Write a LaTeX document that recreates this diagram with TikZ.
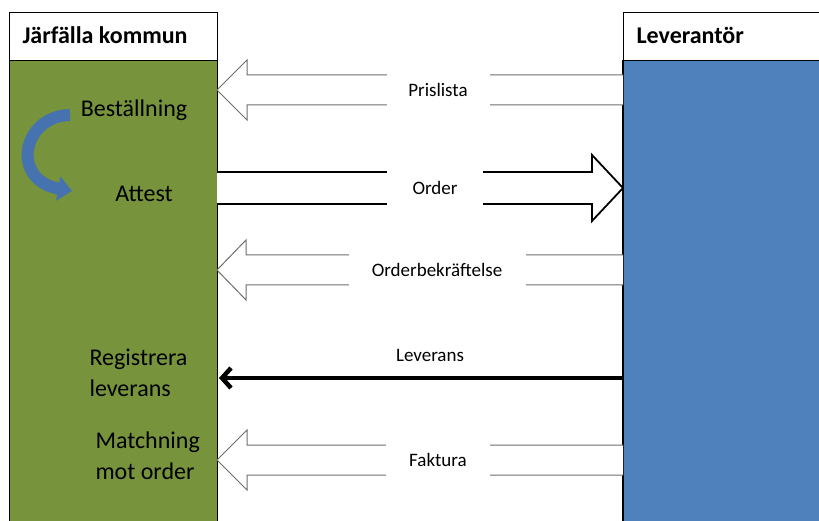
\documentclass[tikz,border=0pt]{standalone}
\usepackage{fontspec}
\setmainfont{Carlito}
\usetikzlibrary{arrows.meta}
\definecolor{kgreen}{RGB}{119,147,60}
\definecolor{lblue}{RGB}{79,129,189}
\definecolor{carrow}{RGB}{70,115,175}
\definecolor{agray}{RGB}{110,110,110}
\tikzset{
  hdr/.style={draw=black, line width=0.8pt, fill=white},
  lbltext/.style={font=\fontsize{24}{31}\selectfont, text=black},
  hdrtext/.style={font=\bfseries\fontsize{24}{28}\selectfont, anchor=west},
  msg/.style={font=\fontsize{19}{22}\selectfont, fill=white, minimum height=36pt},
  grayarrow/.style={draw=agray, line width=1pt, fill=white},
  blackarrow/.style={draw=black, line width=1.8pt, fill=white, line join=miter},
}
\begin{document}
\begin{tikzpicture}[x=1pt,y=-1pt]
\useasboundingbox (0,0) rectangle (819,521);
% lanes
\fill[kgreen] (9,60) rectangle (217,521);
\draw[black, line width=1pt] (9,60) -- (9,521) (217,60) -- (217,521);
\fill[lblue] (623,60) rectangle (819,521);
\draw[black, line width=1.5pt] (623,60) -- (623,521);
\draw[hdr] (9,12) rectangle (217,60);
\draw[hdr] (623,12) rectangle (819,60);
\node[hdrtext] (hl) at (19,35) {Järfälla kommun};
\node[hdrtext] (hr) at (633,35) {Leverantör};
% side labels
\node[lbltext] (best) at (134,110) {Beställning};
\node[lbltext] (att) at (144,194) {Attest};
\node[lbltext, anchor=west, align=left] (reg) at (86,373) {Registrera\\leverans};
\node[lbltext, anchor=west, align=left] (mat) at (92,456) {Matchning\\mot order};
% curved arrow
\coordinate (cs) at (70,115);
\coordinate (ce) at (72,191);
\draw[carrow, line width=12pt, -{Triangle[width=24pt,length=14pt]}]
  (cs) .. controls (22,116) and (10,180) .. (ce);
% Prislista
\draw[grayarrow] (623,75) -- (247,75) -- (247,60) -- (217,90) -- (247,120) -- (247,105) -- (623,105);
\node[msg, minimum width=103pt] (p) at (438,90) {Prislista};
% Order
\draw[blackarrow] (217,172) -- (592,172) -- (592,155) -- (623,188) -- (592,221) -- (592,204) -- (217,204);
\node[msg, minimum width=96pt, minimum height=38pt] (o) at (435,188) {Order};
% Orderbekräftelse
\draw[grayarrow] (623,255) -- (246,255) -- (246,240) -- (217,270) -- (246,300) -- (246,285) -- (623,285);
\node[msg, minimum width=177pt] (ob) at (437,270) {Orderbekräftelse};
% Leverans
\coordinate (lvs) at (623,378);
\coordinate (lve) at (219,378);
\draw[black, line width=4.5pt, -{Straight Barb[length=9pt,width=20pt]}] (lvs) -- (lve);
\node[font=\fontsize{19}{22}\selectfont] (lv) at (430,355) {Leverans};
% Faktura
\draw[grayarrow] (623,445) -- (247,445) -- (247,430) -- (217,460) -- (247,490) -- (247,475) -- (623,475);
\node[msg, minimum width=104pt] (f) at (438,460) {Faktura};
\end{tikzpicture}
\end{document}
